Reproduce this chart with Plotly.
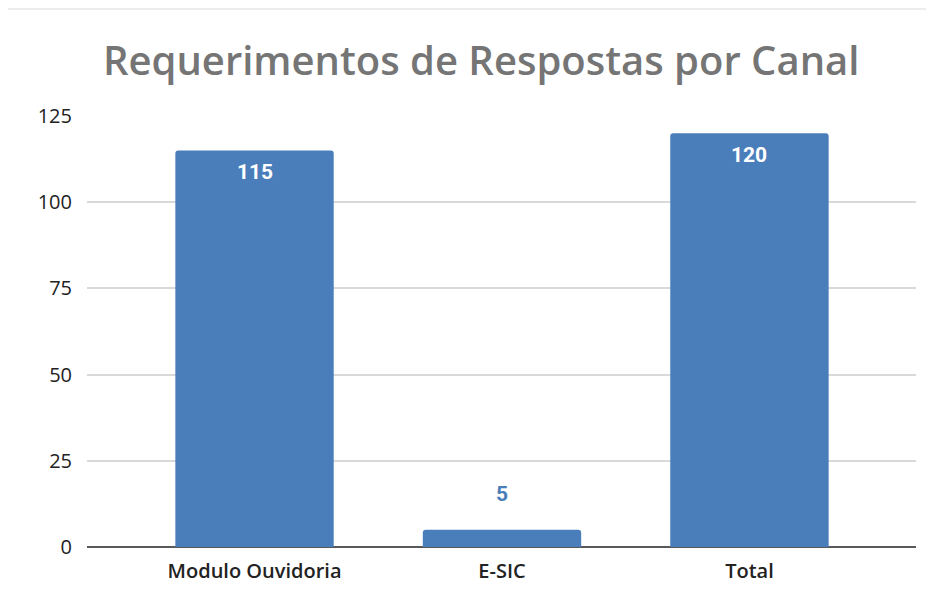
import plotly.graph_objects as go

# dados do gráfico
canais = ['Modulo Ouvidoria', 'E-SIC', 'Total']
requerimentos = [115, 5, 120]
y_ticks = [0, 25, 50, 75, 100, 125]

bar_color = '#4a7ebb'
posicoes = list(range(len(canais)))

fig = go.Figure()
fig.add_trace(go.Bar(
    x=posicoes,
    y=requerimentos,
    width=0.64,
    marker=dict(color=bar_color, cornerradius=3, line=dict(width=0)),
    hoverinfo='skip',
))

# rótulos de dados: dentro da barra (branco) ou acima (azul) quando a barra é baixa
for pos, valor in zip(posicoes, requerimentos):
    dentro = valor > 20
    fig.add_annotation(
        x=pos, y=valor, text=str(valor), showarrow=False,
        yanchor='top' if dentro else 'bottom',
        yshift=-8 if dentro else 22,
        font=dict(family='Roboto', size=21, weight='bold',
                  color='white' if dentro else bar_color),
    )

fig.update_layout(
    width=926, height=594,
    margin=dict(l=79, r=18, t=108, b=55),
    paper_bgcolor='white',
    plot_bgcolor='white',
    showlegend=False,
    title=dict(
        text='Requerimentos de Respostas por Canal',
        x=0.511, xanchor='center',
        y=0.91, yanchor='middle',
        font=dict(family='Open Sans', size=40, color='#757575', weight=600),
    ),
    shapes=[
        dict(type='rect', xref='paper', yref='paper', x0=-0.1, x1=1.03, y0=1.246, y1=1.26,
             fillcolor='#ececec', line=dict(width=0), layer='below'),
    ],
)

fig.update_xaxes(
    range=[-0.677, 2.673],
    tickvals=posicoes,
    ticktext=canais,
    tickfont=dict(family='Open Sans', size=20, color='#222222', weight=600),
    ticklabelstandoff=10,
    showgrid=False,
    showline=False,
    zeroline=False,
    ticks='',
    fixedrange=True,
)
fig.update_yaxes(
    range=[0, 125],
    tickvals=y_ticks,
    tickfont=dict(family='Open Sans', size=20, color='#222222'),
    ticklabelstandoff=14,
    showgrid=True,
    gridcolor='#d9d9d9',
    gridwidth=1.5,
    zeroline=True,
    zerolinecolor='#595959',
    zerolinewidth=2,
    showline=False,
    ticks='',
    fixedrange=True,
)

fig.write_html("out.html")
